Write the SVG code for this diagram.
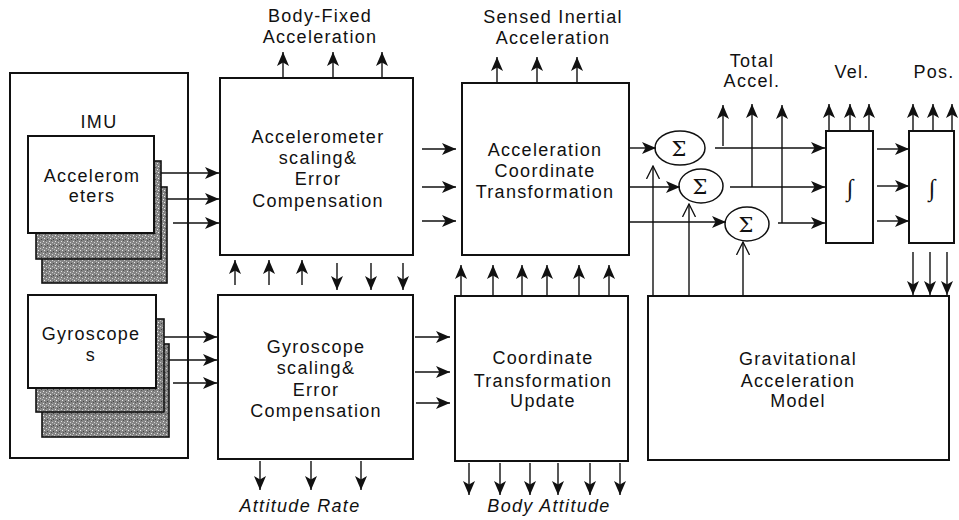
<svg xmlns="http://www.w3.org/2000/svg" width="959" height="520" viewBox="0 0 959 520">
<style>
text{font-family:"Liberation Sans",Arial,sans-serif;font-size:18px;letter-spacing:1.3px;fill:#111;text-anchor:middle}
.box{fill:#fff;stroke:#111;stroke-width:2}
.sh{fill:url(#stip);stroke:#111;stroke-width:1.6}
.ln{fill:none;stroke:#111;stroke-width:1.4}
.ar{fill:none;stroke:#111;stroke-width:1.4;marker-end:url(#ah)}
.oa{fill:none;stroke:#111;stroke-width:1.4;marker-end:url(#oh)}
.sym{font-family:"DejaVu Serif","Liberation Serif",serif;letter-spacing:0;font-size:21px}
.int{font-family:"Liberation Serif","DejaVu Serif",serif;letter-spacing:0;font-size:24px;font-style:italic}
</style>
<defs>
<marker id="ah" markerUnits="userSpaceOnUse" markerWidth="15" markerHeight="13" refX="14" refY="6" orient="auto">
<path d="M0,0 L14,6 L0,12 L3.5,6 Z" fill="#111"/>
</marker>
<marker id="oh" markerUnits="userSpaceOnUse" markerWidth="14" markerHeight="14" refX="13" refY="7" orient="auto">
<path d="M0,0.5 L13,7 L0,13.5" fill="none" stroke="#111" stroke-width="1.3"/>
</marker>
<pattern id="stip" width="6" height="6" patternUnits="userSpaceOnUse">
<rect width="6" height="6" fill="#858585"/>
<rect x="1" y="1" width="1" height="1" fill="#e8e8e8"/>
<rect x="4" y="2" width="1" height="1" fill="#d0d0d0"/>
<rect x="2" y="4" width="1" height="1" fill="#f0f0f0"/>
<rect x="5" y="5" width="1" height="1" fill="#444"/>
<rect x="3" y="0" width="1" height="1" fill="#555"/>
<rect x="0" y="3" width="1" height="1" fill="#bbb"/>
</pattern>
</defs>

<g id="imu">
<rect class="box" x="10" y="73" width="178" height="385" stroke-width="1.6"/>
<text x="99" y="128">IMU</text>
</g>

<g id="accelerometers">
<rect class="sh" x="42" y="187" width="125" height="96"/>
<rect class="sh" x="36" y="161" width="125" height="98"/>
<rect class="box" x="28" y="136" width="126" height="97" stroke-width="1.6"/>
<text x="92" y="182">Accelerom</text>
<text x="92" y="202">eters</text>
</g>

<g id="gyroscopes">
<rect class="sh" x="42" y="344" width="127" height="93"/>
<rect class="sh" x="36" y="319" width="128" height="93"/>
<rect class="box" x="28" y="295" width="128" height="93" stroke-width="1.6"/>
<text x="91" y="340">Gyroscope</text>
<text x="91" y="361">s</text>
</g>

<g id="accel-comp">
<rect class="box" x="220" y="78" width="193" height="177"/>
<text x="318" y="143">Accelerometer</text>
<text x="318" y="164">scaling&amp;</text>
<text x="318" y="185">Error</text>
<text x="318" y="207">Compensation</text>
</g>

<g id="gyro-comp">
<rect class="box" x="218" y="295" width="195" height="164"/>
<text x="316" y="353">Gyroscope</text>
<text x="316" y="374">scaling&amp;</text>
<text x="316" y="396">Error</text>
<text x="316" y="417">Compensation</text>
</g>

<g id="accel-transform">
<rect class="box" x="462" y="83" width="167" height="172"/>
<text x="545" y="156">Acceleration</text>
<text x="545" y="177">Coordinate</text>
<text x="545" y="198">Transformation</text>
</g>

<g id="coord-update">
<rect class="box" x="455" y="296" width="173" height="165"/>
<text x="543" y="364">Coordinate</text>
<text x="543" y="387">Transformation</text>
<text x="543" y="407">Update</text>
</g>

<g id="sum1">
<ellipse cx="680" cy="148" rx="25" ry="17" fill="#fff" stroke="#111" stroke-width="1.5"/>
<text class="sym" x="679" y="156">Σ</text>
</g>
<g id="sum2">
<ellipse cx="701" cy="186" rx="22" ry="17" fill="#fff" stroke="#111" stroke-width="1.5"/>
<text class="sym" x="700" y="194">Σ</text>
</g>
<g id="sum3">
<ellipse cx="747" cy="224" rx="22" ry="17" fill="#fff" stroke="#111" stroke-width="1.5"/>
<text class="sym" x="746" y="232">Σ</text>
</g>

<g id="vel-int">
<rect class="box" x="826" y="131" width="47" height="112"/>
<text class="int" x="850" y="196">∫</text>
</g>
<g id="pos-int">
<rect class="box" x="909" y="131" width="45" height="112"/>
<text class="int" x="932" y="196">∫</text>
</g>

<g id="gravity">
<rect class="box" x="648" y="296" width="301" height="164"/>
<text x="798" y="365">Gravitational</text>
<text x="798" y="387">Acceleration</text>
<text x="798" y="407">Model</text>
</g>

<g id="labels">
<text x="320" y="22">Body-Fixed</text>
<text x="320" y="43">Acceleration</text>
<text x="553" y="23">Sensed Inertial</text>
<text x="553" y="44">Acceleration</text>
<text x="752" y="67">Total</text>
<text x="752" y="87">Accel.</text>
<text x="852" y="78">Vel.</text>
<text x="934" y="78">Pos.</text>
<text x="300" y="512" font-style="italic">Attitude Rate</text>
<text x="549" y="512" font-style="italic">Body Attitude</text>
</g>

<g id="connectors">
<path class="ar" d="M161,173 H219"/>
<path class="ar" d="M167,199 H219"/>
<path class="ar" d="M173,223 H219"/>
<path class="ar" d="M164,337 H217"/>
<path class="ar" d="M169,360 H217"/>
<path class="ar" d="M173,383 H217"/>
<path class="ar" d="M283,78 V52"/>
<path class="ar" d="M333,78 V52"/>
<path class="ar" d="M382,78 V52"/>
<path class="ar" d="M235,285 V260"/>
<path class="ar" d="M269,285 V260"/>
<path class="ar" d="M302,285 V260"/>
<path class="ar" d="M337,263 V290"/>
<path class="ar" d="M371,263 V290"/>
<path class="ar" d="M403,263 V290"/>
<path class="ar" d="M260,461 V490"/>
<path class="ar" d="M311,461 V490"/>
<path class="ar" d="M361,461 V490"/>
<path class="ar" d="M422,149 H456"/>
<path class="ar" d="M422,187 H456"/>
<path class="ar" d="M422,221 H456"/>
<path class="ar" d="M415,337 H450"/>
<path class="ar" d="M415,372 H450"/>
<path class="ar" d="M416,403 H450"/>
<path class="ar" d="M497,82 V57"/>
<path class="ar" d="M537,82 V57"/>
<path class="ar" d="M577,82 V57"/>
<path class="ar" d="M461,296 V265"/>
<path class="ar" d="M493,296 V265"/>
<path class="ar" d="M522,296 V265"/>
<path class="ar" d="M547,296 V265"/>
<path class="ar" d="M579,296 V265"/>
<path class="ar" d="M609,296 V265"/>
<path class="ar" d="M469,463 V495"/>
<path class="ar" d="M500,463 V495"/>
<path class="ar" d="M530,463 V495"/>
<path class="ar" d="M558,463 V495"/>
<path class="ar" d="M590,463 V495"/>
<path class="ar" d="M620,463 V495"/>
<path class="ar" d="M629,148 H656"/>
<path class="ar" d="M629,187 H680"/>
<path class="ar" d="M629,222 H726"/>
<path class="oa" d="M653,295 V166"/>
<path class="oa" d="M689,295 V204"/>
<path class="oa" d="M743,295 V242"/>
<path class="ar" d="M715,148 H825"/>
<path class="ar" d="M730,187 H825"/>
<path class="ar" d="M778,223 H825"/>
<path class="ar" d="M723,146 V105"/>
<path class="ar" d="M752,187 V104"/>
<path class="ar" d="M782,223 V105"/>
<path class="ar" d="M877,149 H909"/>
<path class="ar" d="M877,186 H909"/>
<path class="ar" d="M877,221 H909"/>
<path class="ar" d="M829,131 V104"/>
<path class="ar" d="M850,131 V104"/>
<path class="ar" d="M869,131 V104"/>
<path class="ar" d="M913,131 V104"/>
<path class="ar" d="M933,131 V104"/>
<path class="ar" d="M952,131 V104"/>
<path class="ar" d="M913,252 V295"/>
<path class="ar" d="M930,252 V295"/>
<path class="ar" d="M947,252 V295"/>
</g>
</svg>
